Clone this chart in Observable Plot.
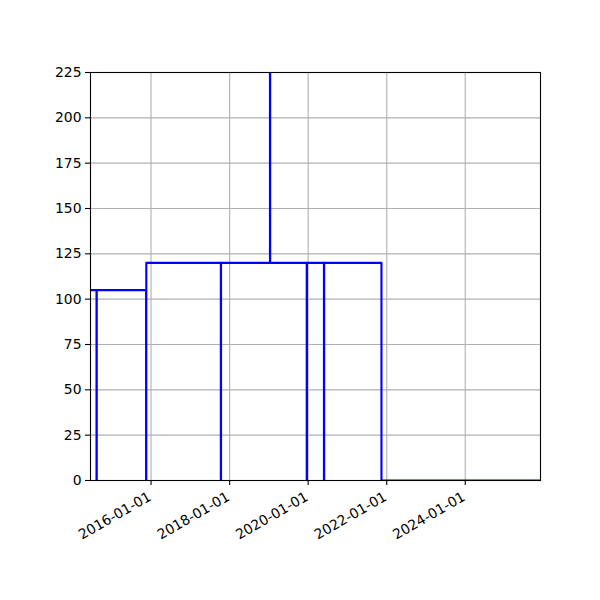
<!DOCTYPE html>
<html>
<head>
<meta charset="utf-8">
<script src="https://cdn.jsdelivr.net/npm/d3@7"></script>
<script src="https://cdn.jsdelivr.net/npm/@observablehq/plot@0.6"></script>
<style>
  html, body { margin: 0; padding: 0; background: #fff; }
  #chart { width: 600px; height: 600px; }
</style>
</head>
<body>
<div id="chart"></div>
<script>
// Step series: date at which the value starts, and the value
const dates = [
  "2014-06-01", "2014-08-12", "2014-08-14", "2015-11-16", "2015-11-18",
  "2017-10-11", "2017-10-13", "2019-01-11", "2019-01-13", "2019-12-19",
  "2019-12-21", "2020-05-27", "2020-05-29", "2021-11-13", "2025-12-31"
];
const values = [
  105, 0, 105, 0, 120,
  0, 120, 300, 120, 0,
  120, 0, 120, 0, 0
];
const xTicks = ["2016-01-01", "2018-01-01", "2020-01-01", "2022-01-01", "2024-01-01"];
const yTicks = [0, 25, 50, 75, 100, 125, 150, 175, 200, 225];
const xDomain = ["2014-06-17", "2025-12-01"];
const yDomain = [0, 225];

const data = dates.map((d, i) => ({date: new Date(d), value: values[i]}));
const xTickDates = xTicks.map(d => new Date(d));
const fmt = d3.utcFormat("%Y-%m-%d");

const chart = Plot.plot({
  width: 600,
  height: 600,
  marginLeft: 90,
  marginRight: 60,
  marginTop: 72,
  marginBottom: 120,
  style: {fontFamily: "DejaVu Sans", fontSize: "13.9px", color: "black", background: "white"},
  x: {type: "utc", domain: xDomain.map(d => new Date(d))},
  y: {domain: yDomain},
  marks: [
    Plot.gridX(xTickDates, {stroke: "#b0b0b0", strokeOpacity: 1, strokeWidth: 1.1}),
    Plot.gridY(yTicks, {stroke: "#b0b0b0", strokeOpacity: 1, strokeWidth: 1.1}),
    Plot.line(data, {x: "date", y: "value", curve: "step-after", stroke: "#0000ff", strokeWidth: 2.1, clip: true}),
    Plot.frame({stroke: "black", strokeWidth: 1.1}),
    Plot.axisY({ticks: yTicks, tickSize: 5, tickPadding: 4, label: null, strokeWidth: 1.1}),
    Plot.axisX({ticks: xTickDates, tickFormat: () => "", tickSize: 5, label: null, strokeWidth: 1.1}),
    Plot.text(xTickDates, {
      x: d => d, frameAnchor: "bottom", text: d => fmt(d),
      rotate: -30, textAnchor: "end", lineAnchor: "bottom",
      dx: 1, dy: 19, fontSize: 13.9, fill: "black"
    })
  ]
});
document.getElementById("chart").appendChild(chart);
</script>
</body>
</html>
